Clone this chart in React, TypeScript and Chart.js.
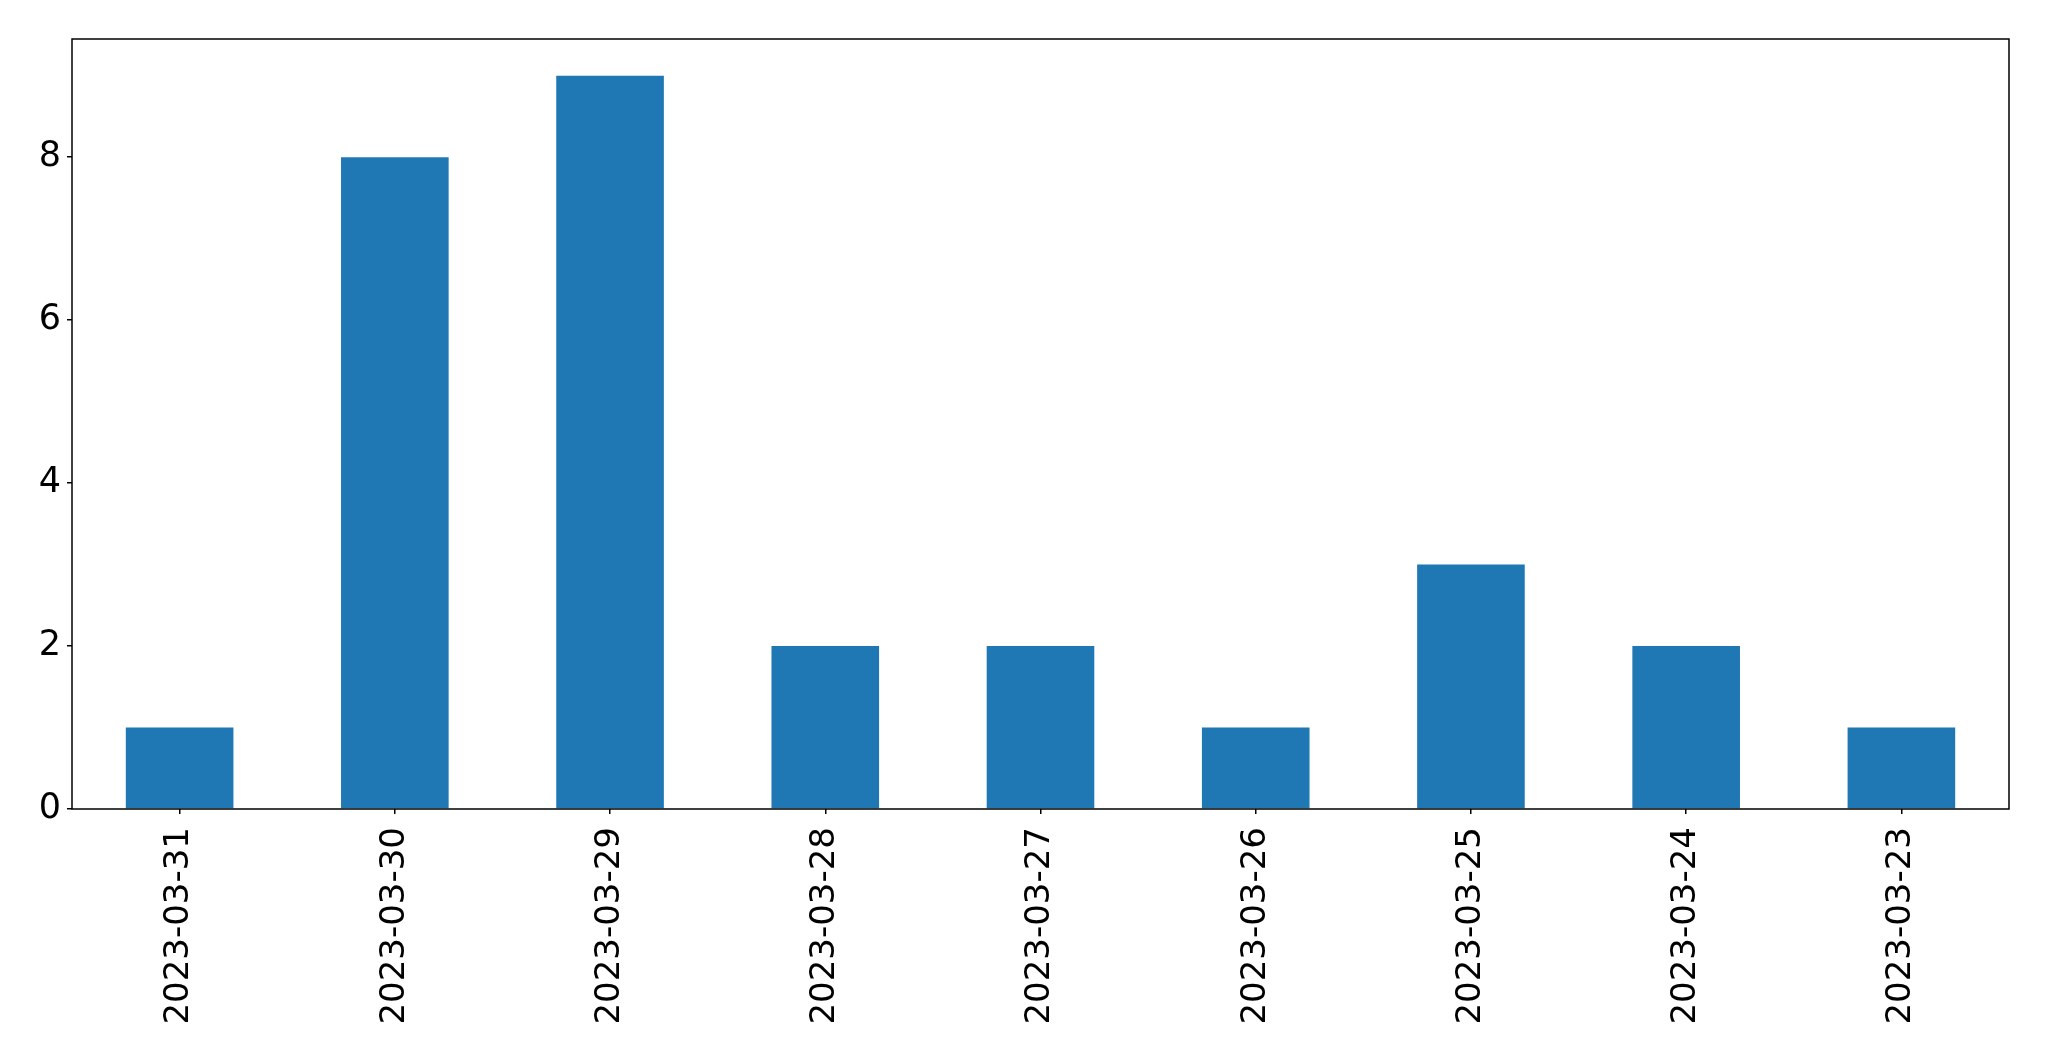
import React, { useEffect, useRef } from "react";
import { Chart, registerables } from "chart.js";

Chart.register(...registerables);

const categories = [
  "2023-03-31",
  "2023-03-30",
  "2023-03-29",
  "2023-03-28",
  "2023-03-27",
  "2023-03-26",
  "2023-03-25",
  "2023-03-24",
  "2023-03-23",
];
const values = [1, 8, 9, 2, 2, 1, 3, 2, 1];
const yTicks = [0, 2, 4, 6, 8];

const W = 2049;
const H = 1061;

const frame = {
  id: "frame",
  afterDraw(chart: any) {
    const { ctx, chartArea } = chart;
    ctx.save();
    ctx.strokeStyle = "#000";
    ctx.lineWidth = 1.5;
    ctx.strokeRect(
      chartArea.left,
      chartArea.top,
      chartArea.right - chartArea.left,
      chartArea.bottom - chartArea.top
    );
    ctx.restore();
  },
};

export default function App() {
  const ref = useRef<HTMLCanvasElement | null>(null);
  useEffect(() => {
    document.body.style.margin = "0";
    const c = ref.current;
    if (!c) return;
    const chart = new Chart(c, {
      type: "bar",
      data: {
        labels: categories,
        datasets: [
          {
            data: values,
            backgroundColor: "#1f77b4",
            borderWidth: 0,
            barPercentage: 0.5,
            categoryPercentage: 1,
          },
        ],
      },
      options: {
        animation: false,
        responsive: false,
        devicePixelRatio: 1,
        layout: { padding: { top: 39, right: 40, left: 0, bottom: 0 } },
        plugins: { legend: { display: false }, tooltip: { enabled: false } },
        scales: {
          x: {
            offset: true,
            grid: {
              display: true,
              offset: false,
              drawOnChartArea: false,
              drawTicks: true,
              tickLength: 5,
              color: "#000",
              lineWidth: 1.5,
            },
            border: { display: false },
            ticks: {
              color: "#000",
              font: { family: "DejaVu Sans", size: 34 },
              maxRotation: 90,
              minRotation: 90,
              padding: 13,
              autoSkip: false,
            },
            afterFit(scale: any) {
              scale.height = H - 809;
            },
          },
          y: {
            min: 0,
            max: 9.45,
            grid: {
              display: true,
              drawOnChartArea: false,
              drawTicks: true,
              tickLength: 5,
              color: "#000",
              lineWidth: 1.5,
            },
            border: { display: false },
            afterBuildTicks(scale: any) {
              scale.ticks = yTicks.map((v) => ({ value: v }));
            },
            ticks: {
              color: "#000",
              font: { family: "DejaVu Sans", size: 35 },
              padding: 6,
            },
            afterFit(scale: any) {
              scale.width = 72;
            },
          },
        },
      },
      plugins: [frame],
    });
    return () => chart.destroy();
  }, []);
  return (
    <div style={{ width: W, height: H }}>
      <canvas ref={ref} width={W} height={H} style={{ width: W, height: H, display: "block" }} />
    </div>
  );
}
